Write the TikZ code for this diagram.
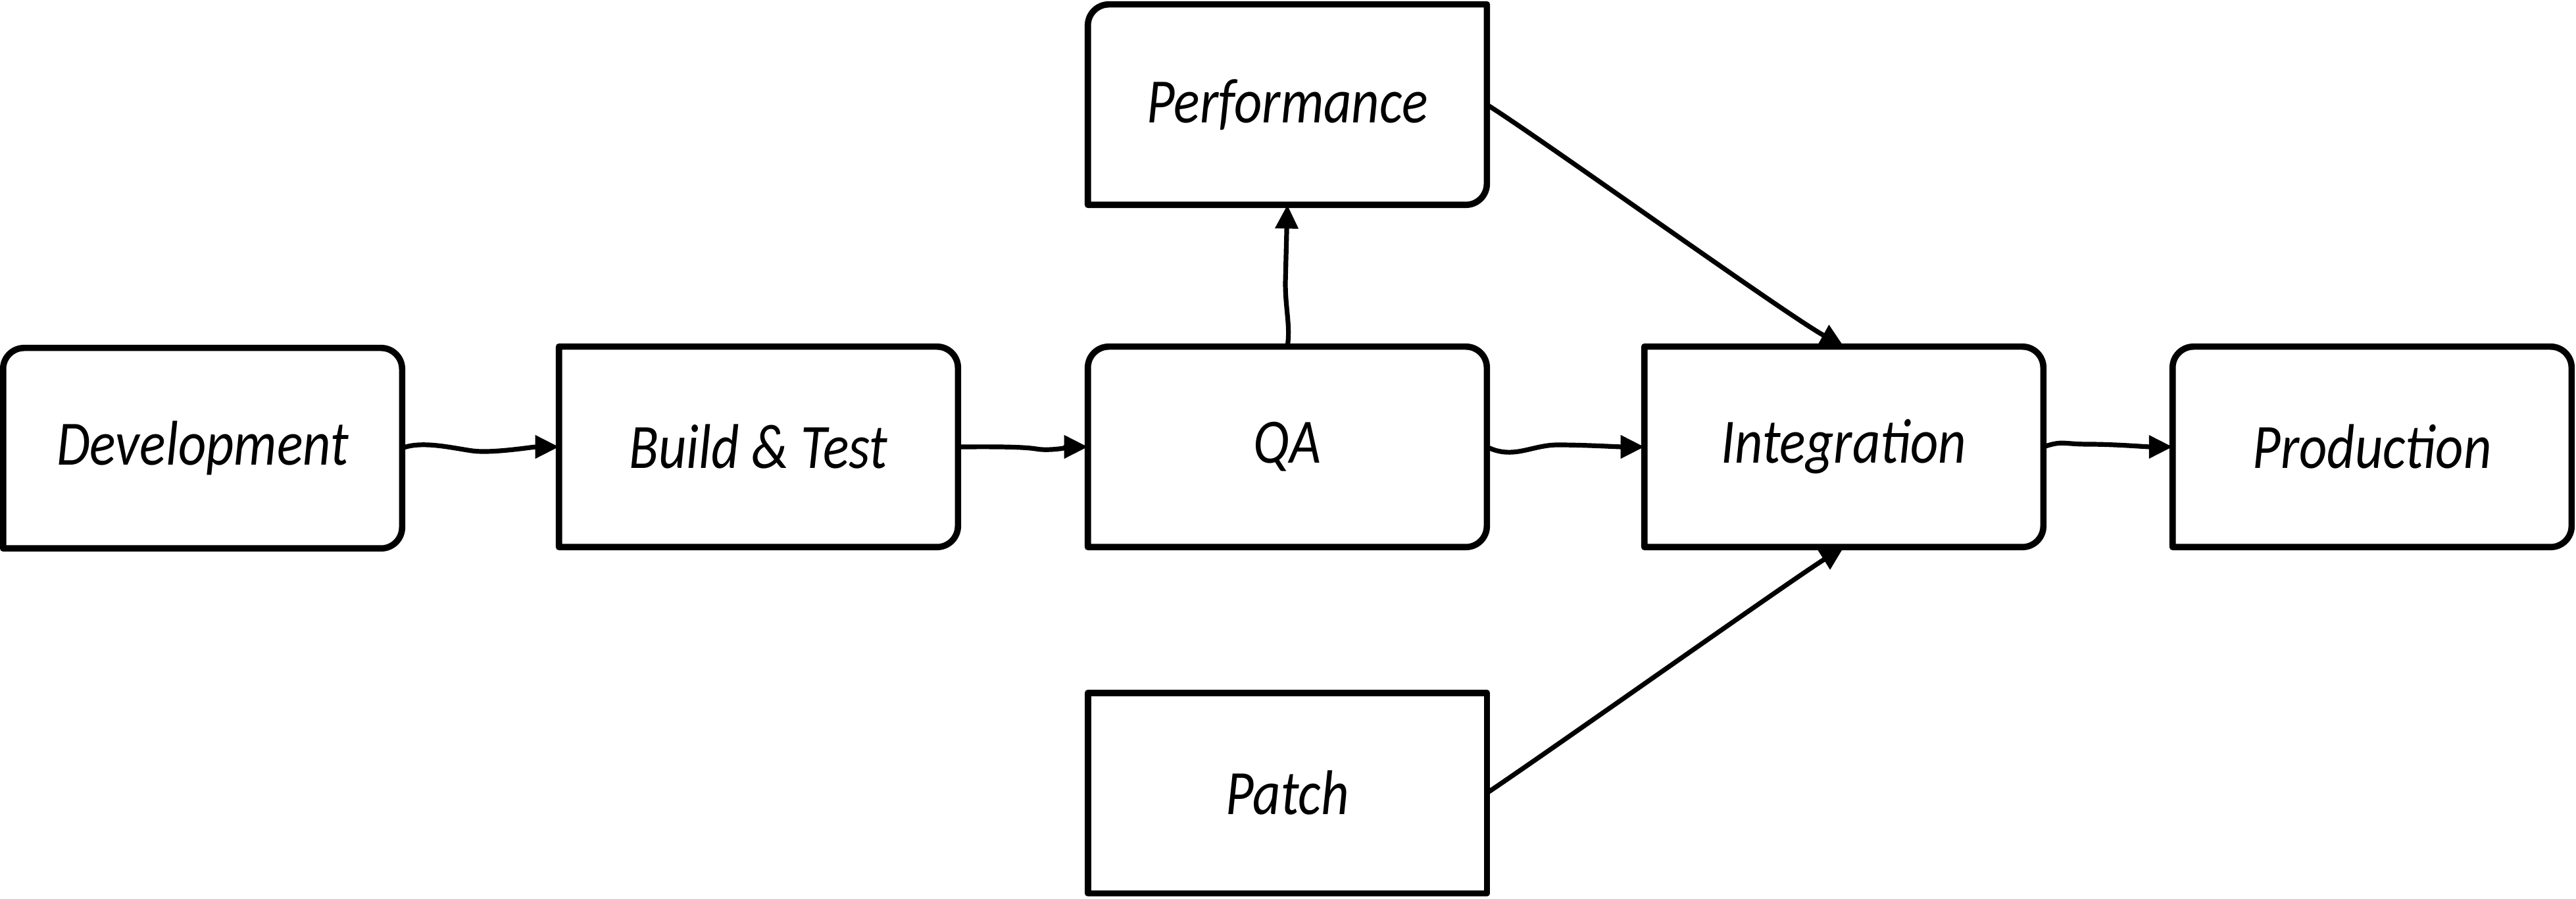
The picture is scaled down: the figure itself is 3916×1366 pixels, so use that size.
\documentclass[tikz,border=0pt]{standalone}
\usepackage{fontspec}
\newfontfamily\handfont{Carlito}[FakeStretch=0.86]
\usetikzlibrary{arrows.meta,calc}
\tikzset{
  box/.style={minimum width=151.25pt, minimum height=75.75pt, inner sep=0pt,
    font=\handfont\itshape\fontsize{24}{28}\selectfont},
  boxline/.style={line width=2.4pt, line join=round, line cap=round},
  flow/.style={line width=1.8pt, line cap=round,
    -{Triangle[length=9pt,width=8.5pt]}},
}
\newcommand\skbox[4]{%
  \draw[boxline] (#1.west) [#2] -- (#1.north west) [#3] -- (#1.north east) [#4]
    -- (#1.south east) [sharp corners] -- (#1.south west) -- cycle;}
\begin{document}
\begin{tikzpicture}[x=0.25pt,y=-0.25pt]
\useasboundingbox (0,0) rectangle (3916,1366);
\fill[white] (0,0) rectangle (3916,1366);

\node[box] (dev)   at (308,681)  {Development};
\node[box] (build) at (1153,679) {Build \& Test};
\node[box] (qa)    at (1957,679) {QA};
\node[box] (perf)  at (1957,159) {Performance};
\node[box] (integ) at (2803,679) {Integration};
\node[box] (prod)  at (3606,679) {Production};
\node[box] (patch) at (1957,1205) {Patch};

\skbox{dev}{rounded corners=8pt}{rounded corners=8pt}{rounded corners=8pt}
\skbox{build}{sharp corners}{rounded corners=8pt}{rounded corners=8pt}
\skbox{qa}{rounded corners=8pt}{rounded corners=8pt}{rounded corners=8pt}
\skbox{perf}{rounded corners=8pt}{sharp corners}{rounded corners=8pt}
\skbox{integ}{sharp corners}{rounded corners=8pt}{rounded corners=8pt}
\skbox{prod}{rounded corners=8pt}{rounded corners=8pt}{rounded corners=8pt}
\skbox{patch}{sharp corners}{sharp corners}{sharp corners}

\draw[flow] (dev.east) .. controls +(30,-12) and +(-30,-4) .. ($(dev.east)!0.45!(build.west)+(0,5)$)
  .. controls +(30,4) and +(-40,0) .. (build.west);
\draw[flow] (build.east) .. controls +(30,0) and +(-25,-4) .. ($(build.east)!0.6!(qa.west)+(0,3)$)
  .. controls +(20,4) and +(-20,0) .. (qa.west);
\draw[flow] (qa.east) .. controls +(40,20) and +(-40,0) .. ($(qa.east)!0.45!(integ.west)+(0,-3)$)
  .. controls +(40,0) and +(-40,0) .. (integ.west);
\draw[flow] (integ.east) .. controls +(30,-10) and +(-40,0) .. ($(integ.east)!0.35!(prod.west)+(0,-4)$)
  .. controls +(40,0) and +(-40,0) .. (prod.west);
\draw[flow] (qa.north) .. controls +(5,-30) and +(0,40) .. ($(qa.north)!0.45!(perf.south)+(-3,0)$)
  -- (perf.south);
\draw[flow] (perf.east) .. controls +(80,50) and +(-90,-50) .. (integ.north);
\draw[flow] (patch.east) .. controls +(90,-60) and +(-80,50) .. (integ.south);
\end{tikzpicture}
\end{document}
